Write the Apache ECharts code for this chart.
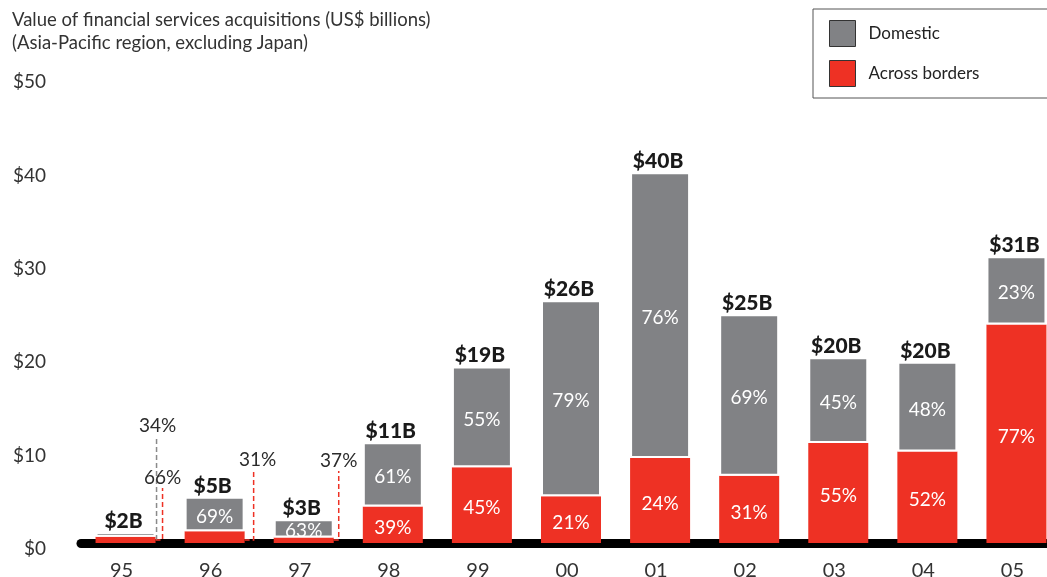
<!DOCTYPE html>
<html>
<head>
<meta charset="utf-8">
<script src="https://cdn.jsdelivr.net/npm/echarts@6/dist/echarts.min.js"></script>
<style>
  html, body { margin: 0; padding: 0; background: #fff; }
  #chart { width: 1047px; height: 577px; }
</style>
</head>
<body>
<div id="chart"></div>
<script>
// data (US$ billions)
const categories = ['95', '96', '97', '98', '99', '00', '01', '02', '03', '04', '05'];
const acrossBorders = [0.67, 1.25, 0.6, 3.9, 8.1, 5.0, 9.1, 7.2, 10.7, 9.8, 23.4];
const domestic = [0.5, 3.7, 1.95, 6.9, 10.8, 21.0, 30.6, 17.3, 9.2, 9.6, 7.3];
const acrossPct = ['66%', '31%', '37%', '39%', '45%', '21%', '24%', '31%', '55%', '52%', '77%'];
const domesticPct = ['34%', '69%', '63%', '61%', '55%', '79%', '76%', '69%', '45%', '48%', '23%'];
const totalLabels = ['$2B', '$5B', '$3B', '$11B', '$19B', '$26B', '$40B', '$25B', '$20B', '$20B', '$31B'];
const yTicks = [0, 10, 20, 30, 40, 50];

const RED = '#ee3124';
const GRAY = '#818285';
const FONT = 'Lato, "Noto Sans", sans-serif';
const BAR_WIDTH = 60;

// small bars get their share written outside, on a dashed leader
// dx / rise / tx are pixel offsets for the leader line and its text
const callouts = [
    { idx: 0, part: 'dom', dx: 1, rise: 107, tx: 1, hook: false },
    { idx: 0, part: 'cross', dx: 7, rise: 55, tx: 0, hook: true },
    { idx: 1, part: 'cross', dx: 9, rise: 73, tx: 4, hook: true },
    { idx: 2, part: 'cross', dx: 5, rise: 72, tx: 0, hook: true }
];
const isOutside = (i, part) => callouts.some(c => c.idx === i && c.part === part);

const chart = echarts.init(document.getElementById('chart'));

const pctLabel = {
    show: true,
    position: 'inside',
    offset: [0, 3],
    color: '#fff',
    fontSize: 19,
    fontFamily: FONT
};

const options = {
    animation: false,
    title: {
        text: 'Value of financial services acquisitions (US$ billions)\n(Asia-Pacific region, excluding Japan)',
        left: 12,
        top: 9,
        padding: 0,
        textStyle: {
            fontSize: 18.5,
            fontWeight: 'normal',
            color: '#333',
            lineHeight: 23,
            fontFamily: FONT
        }
    },
    legend: {
        data: ['Domestic', 'Across borders'],
        orient: 'vertical',
        left: 813,
        top: 9,
        padding: [11, 80, 11, 16],
        borderColor: '#555',
        borderWidth: 1,
        itemWidth: 26,
        itemHeight: 26,
        itemGap: 13,
        icon: 'rect',
        itemStyle: { borderColor: '#333', borderWidth: 1 },
        textStyle: { fontSize: 17, color: '#222', fontFamily: FONT, padding: [0, 0, 0, 8] }
    },
    grid: {
        left: 81,
        top: 76,
        width: 980,
        bottom: 34,
        outerBoundsMode: 'none'
    },
    xAxis: {
        type: 'category',
        data: categories,
        offset: 4.5,
        axisTick: { show: false },
        axisLine: { lineStyle: { color: '#000', width: 9 } },
        axisLabel: {
            fontSize: 20,
            color: '#333',
            margin: 13,
            padding: [0, 8, 0, 0],
            fontFamily: FONT
        }
    },
    yAxis: {
        type: 'value',
        min: yTicks[0],
        max: yTicks[yTicks.length - 1],
        interval: 10,
        splitLine: { show: false },
        axisLine: { show: false },
        axisTick: { show: false },
        axisLabel: {
            formatter: v => '$' + v,
            fontSize: 19,
            color: '#333',
            margin: 35,
            verticalAlign: 'top',
            lineHeight: 12,
            fontFamily: FONT
        }
    },
    series: [
        {
            name: 'Across borders',
            type: 'bar',
            stack: 'total',
            barWidth: BAR_WIDTH,
            itemStyle: { color: RED },
            label: Object.assign({}, pctLabel, { formatter: p => acrossPct[p.dataIndex] }),
            data: acrossBorders.map((v, i) => isOutside(i, 'cross') ? { value: v, label: { show: false } } : v)
        },
        {
            name: 'Domestic',
            type: 'bar',
            stack: 'total',
            barWidth: BAR_WIDTH,
            itemStyle: { color: GRAY, borderColor: '#fff', borderWidth: 2 },
            label: Object.assign({}, pctLabel, { formatter: p => domesticPct[p.dataIndex] }),
            data: domestic.map((v, i) => isOutside(i, 'dom') ? { value: v, label: { show: false } } : v)
        },
        {
            // bold totals above each bar
            name: 'totals',
            type: 'custom',
            silent: true,
            z: 5,
            data: categories.map((c, i) => [i, acrossBorders[i] + domestic[i]]),
            encode: { x: 0, y: 1 },
            renderItem: (params, api) => {
                const pt = api.coord([api.value(0), api.value(1)]);
                return {
                    type: 'text',
                    style: {
                        x: pt[0] - 2,
                        y: pt[1] - 11,
                        text: totalLabels[params.dataIndex],
                        fill: '#1a1a1a',
                        font: '900 21px ' + FONT,
                        align: 'center',
                        verticalAlign: 'middle'
                    }
                };
            }
        },
        {
            // dashed leaders for the shares that do not fit
            name: 'callouts',
            type: 'custom',
            silent: true,
            z: 5,
            data: callouts.map(c => [c.idx, 0]),
            encode: { x: 0, y: 1 },
            renderItem: (params, api) => {
                const c = callouts[params.dataIndex];
                const base = api.coord([api.value(0), 0]);
                const right = base[0] + BAR_WIDTH / 2;
                const lx = right + c.dx;
                const y0 = base[1] - 3;
                const yTop = base[1] - c.rise;
                const pts = c.hook ? [[right, y0], [lx, y0], [lx, yTop]] : [[lx, y0], [lx, yTop]];
                const color = c.part === 'cross' ? RED : '#8a8a8a';
                const text = c.part === 'cross' ? acrossPct[c.idx] : domesticPct[c.idx];
                return {
                    type: 'group',
                    children: [
                        {
                            type: 'polyline',
                            shape: { points: pts },
                            style: { stroke: color, lineWidth: 1.5, lineDash: [5, 3], fill: 'none' }
                        },
                        {
                            type: 'text',
                            style: {
                                x: lx + c.tx,
                                y: yTop - 10,
                                text: text,
                                fill: '#2b2b2b',
                                font: '19px ' + FONT,
                                align: 'center',
                                verticalAlign: 'middle'
                            }
                        }
                    ]
                };
            }
        }
    ]
};

chart.setOption(options);
</script>
</body>
</html>
